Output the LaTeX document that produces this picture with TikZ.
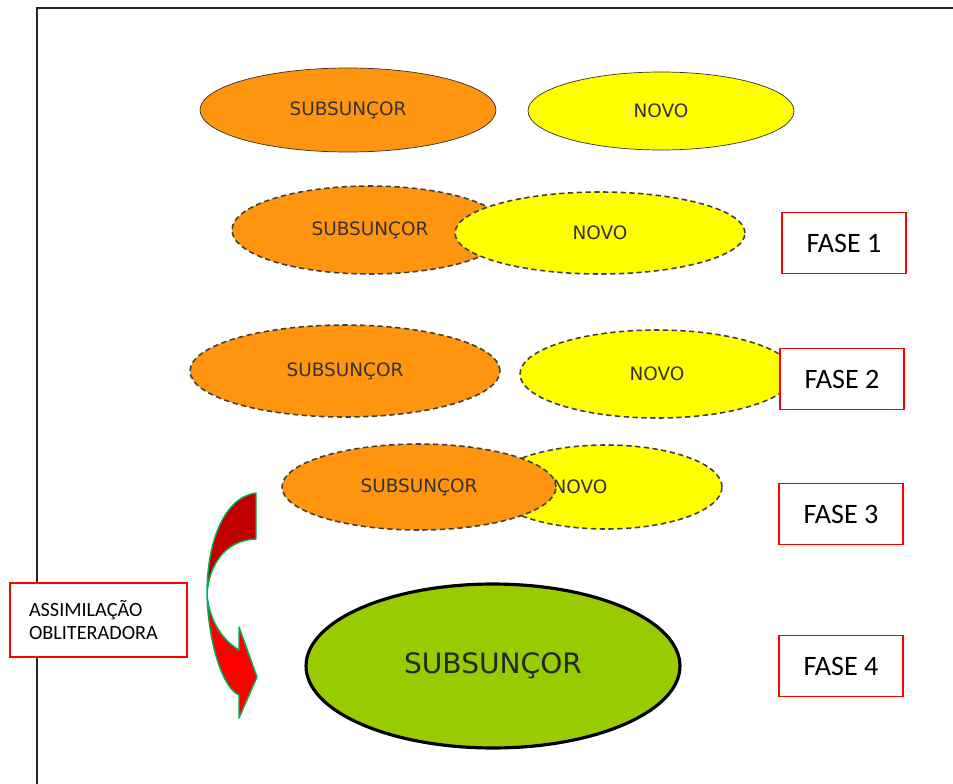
\documentclass[tikz,border=0pt]{standalone}
\usepackage{fontspec}
\setmainfont{Carlito}
\newfontfamily\verd{DejaVu Sans}
\usepackage{tikz}
\usetikzlibrary{shapes.geometric}
\definecolor{laranja}{HTML}{FF950E}
\definecolor{amarelo}{HTML}{FFFF00}
\definecolor{verde}{HTML}{99CC00}
\definecolor{tinta}{HTML}{333333}
\definecolor{vermelho}{HTML}{FF0000}
\definecolor{escuro}{HTML}{C00000}
\definecolor{contorno}{HTML}{00B050}
\tikzset{
  elip/.style={ellipse, inner sep=0pt, font=\verd\fontsize{10.5}{12}\selectfont, text=tinta},
  subs/.style={elip, fill=laranja, draw=tinta, thin},
  novo/.style={elip, fill=amarelo, draw=tinta, thin},
  trac/.style={dash pattern=on 3pt off 2pt, line width=0.9pt, draw=black!75},
  fase/.style={rectangle, draw=vermelho, fill=white, semithick,
               minimum width=2.48cm, minimum height=1.22cm,
               font=\fontsize{16}{18}\selectfont},
  moldura/.style={draw=black!85, line width=1.2pt}
}
\begin{document}
\begin{tikzpicture}[x=0.02cm, y=-0.02cm]
  \useasboundingbox (0,0) rectangle (953,784);
  \draw[moldura] (37,784) -- (37,8) -- (953,8);

  % linha de cima
  \node[subs, minimum width=5.92cm, minimum height=1.68cm] (s0) at (348,110) {SUBSUNÇOR};
  \node[novo, minimum width=5.32cm, minimum height=1.56cm] (n0) at (661,111) {NOVO};

  % fase 1
  \node[subs, trac, minimum width=5.52cm, minimum height=1.76cm] (s1) at (370,230) {SUBSUNÇOR};
  \node[novo, trac, minimum width=5.8cm, minimum height=1.64cm] (n1) at (600,233) {NOVO};

  % fase 2
  \node[subs, trac, minimum width=6.2cm, minimum height=1.84cm] (s2) at (345,371) {SUBSUNÇOR};
  \node[novo, trac, minimum width=5.48cm, minimum height=1.76cm] (n2) at (657,374) {NOVO};

  % fase 3
  \node[novo, trac, minimum width=4.64cm, minimum height=1.68cm] (n3) at (606,487) {};
  \node[elip] (n3t) at (580,487) {NOVO};
  \node[subs, trac, minimum width=5.48cm, minimum height=1.72cm] (s3) at (419,487) {SUBSUNÇOR};

  % fase 4
  \node[elip, fill=verde, draw=black, line width=1.8pt, minimum width=7.48cm,
        minimum height=3.28cm, font=\verd\fontsize{16}{19}\selectfont, text=black!85] (s4) at (493,666) {SUBSUNÇOR};

  % seta curva
  \coordinate (a) at (256,493);
  \coordinate (b) at (256,539);
  \coordinate (w) at (207,594);
  \coordinate (j1) at (239,650);
  \coordinate (j2) at (239,695);
  \coordinate (h1) at (239,627);
  \coordinate (h2) at (239,718);
  \coordinate (t) at (257,677);
  \filldraw[fill=escuro, draw=contorno, thick, line join=round]
    (a) .. controls (225,497) and (207,540) .. (w)
        .. controls (209,565) and (225,540) .. (b) -- cycle;
  \filldraw[fill=vermelho, draw=contorno, thick, line join=round]
    (w) .. controls (208,640) and (222,688) .. (j2) -- (h2) -- (t) -- (h1) -- (j1)
        .. controls (222,640) and (209,620) .. (w) -- cycle;

  % caixas
  \node[fase] (f1) at (844,243) {FASE 1};
  \node[fase] (f2) at (842,379) {FASE 2};
  \node[fase] (f3) at (841,514) {FASE 3};
  \node[fase] (f4) at (841,666) {FASE 4};
  \node[rectangle, draw=vermelho, fill=white, semithick, minimum height=1.48cm,
        text width=2.78cm, inner xsep=0.38cm, align=left,
        font=\fontsize{11.5}{13}\selectfont] (ass) at (98.5,620) {ASSIMILAÇÃO\\OBLITERADORA};
\end{tikzpicture}
\end{document}
